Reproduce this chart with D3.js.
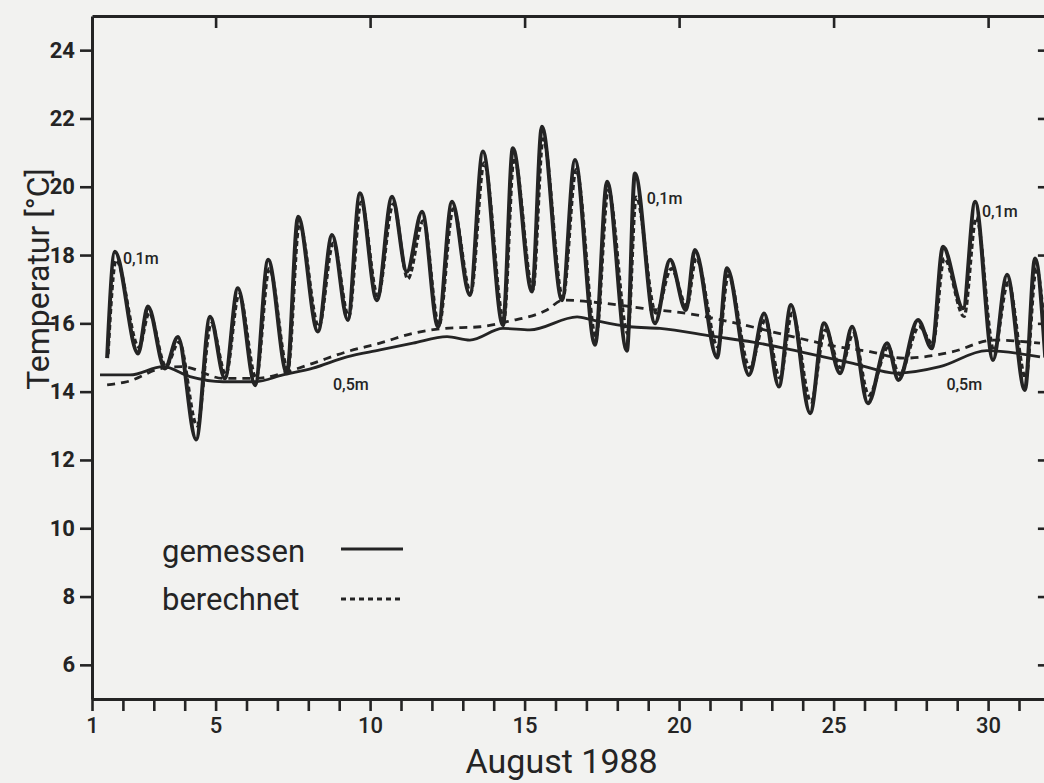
<!DOCTYPE html>
<html>
<head>
<meta charset="utf-8">
<script src="https://cdn.jsdelivr.net/npm/d3@7"></script>
<style>
  html, body { margin: 0; padding: 0; background: #f2f2f0; }
  svg { display: block; }
</style>
</head>
<body>
<svg id="chart" width="1044" height="783"></svg>
<script>
// ---------- data ----------
const yTicks = [6, 8, 10, 12, 14, 16, 18, 20, 22, 24];
const xTickDays = d3.range(1, 32);
const xLabelDays = [1, 5, 10, 15, 20, 25, 30];
const topTickDays = [5, 10, 15, 20, 25, 30];

// 0.1 m depth: daily extremes (decimal day of August 1988)
const t01 = [1.49, 1.74, 2.49, 2.81, 3.36, 3.78, 4.37, 4.82, 5.30, 5.72, 6.28, 6.70, 7.31, 7.67, 8.31, 8.77,
  9.28, 9.67, 10.22, 10.71, 11.19, 11.68, 12.20, 12.65, 13.23, 13.65, 14.30, 14.62, 15.24, 15.56, 16.21, 16.63,
  17.28, 17.67, 18.31, 18.57, 19.22, 19.71, 20.22, 20.51, 21.23, 21.55, 22.26, 22.75, 23.23, 23.62, 24.24, 24.69,
  25.21, 25.60, 26.11, 26.73, 27.10, 27.73, 28.18, 28.54, 29.19, 29.58, 30.16, 30.61, 31.19, 31.52, 31.85];
const measured01 = [14.98, 18.10, 15.12, 16.49, 14.68, 15.60, 12.60, 16.19, 14.39, 17.03, 14.19, 17.86, 14.54, 19.12, 15.76, 18.59,
  16.10, 19.81, 16.68, 19.71, 17.51, 19.27, 15.90, 19.56, 16.83, 21.03, 15.95, 21.13, 16.93, 21.76, 16.68, 20.78,
  15.37, 20.15, 15.20, 20.39, 16.00, 17.86, 16.39, 18.15, 15.00, 17.61, 14.49, 16.29, 14.15, 16.54, 13.37, 16.00,
  14.54, 15.90, 13.66, 15.42, 14.34, 16.10, 15.27, 18.24, 16.44, 19.56, 14.93, 17.42, 14.05, 17.90, 15.00];
const t01calc = [1.52, 1.78, 2.52, 2.85, 3.39, 3.82, 4.40, 4.86, 5.33, 5.76, 6.31, 6.74, 7.34, 7.71, 8.34, 8.81,
  9.31, 9.71, 10.25, 10.75, 11.22, 11.72, 12.23, 12.69, 13.26, 13.69, 14.33, 14.66, 15.27, 15.60, 16.24, 16.67,
  17.31, 17.71, 18.34, 18.61, 19.25, 19.75, 20.25, 20.55, 21.26, 21.59, 22.29, 22.79, 23.26, 23.66, 24.27, 24.73,
  25.24, 25.64, 26.14, 26.77, 27.13, 27.77, 28.21, 28.58, 29.22, 29.62, 30.19, 30.65, 31.22, 31.56, 31.88];
const computed01 = [15.10, 17.85, 15.30, 16.30, 14.75, 15.45, 13.00, 16.00, 14.50, 16.85, 14.40, 17.60, 14.65, 18.90, 15.90, 18.35,
  16.20, 19.55, 16.80, 19.50, 17.30, 19.00, 15.95, 19.35, 16.90, 20.70, 16.10, 20.85, 17.00, 21.40, 16.75, 20.50,
  15.60, 19.90, 15.70, 19.70, 16.30, 17.60, 16.50, 17.90, 15.30, 17.40, 14.70, 16.10, 14.40, 16.30, 13.70, 15.80,
  14.70, 15.70, 13.90, 15.30, 14.50, 15.90, 15.40, 17.90, 16.20, 19.10, 15.20, 17.20, 14.40, 17.60, 15.20];

// 0.5 m depth
const t05meas = [1.26, 2.23, 3.30, 4.17, 5.24, 6.28, 7.18, 8.15, 9.25, 10.32, 11.39, 12.49, 13.23, 14.30, 15.17,
  16.70, 17.18, 18.41, 19.38, 21.10, 22.39, 24.01, 25.63, 27.05, 28.44, 29.96, 31.68];
const measured05 = [14.49, 14.49, 14.73, 14.44, 14.29, 14.29, 14.49, 14.69, 15.02, 15.22, 15.42, 15.61, 15.51, 15.85, 15.81,
  16.19, 16.10, 15.90, 15.85, 15.62, 15.45, 15.15, 14.83, 14.54, 14.73, 15.20, 15.02];
const t05calc = [1.49, 2.13, 3.30, 3.94, 5.24, 6.34, 7.31, 8.15, 9.25, 10.32, 11.39, 12.36, 13.56, 14.43, 15.72,
  16.24, 17.54, 18.83, 20.26, 21.87, 23.49, 25.11, 26.18, 27.25, 28.86, 30.16, 31.68];
const computed05 = [14.20, 14.29, 14.69, 14.73, 14.39, 14.39, 14.58, 14.83, 15.17, 15.42, 15.71, 15.85, 15.90, 16.05, 16.39,
  16.68, 16.59, 16.44, 16.29, 16.00, 15.65, 15.32, 15.17, 14.98, 15.17, 15.51, 15.42];

const depthLabels = [
  {text: "0,1m", day: 2.0, value: 17.75},
  {text: "0,1m", day: 18.95, value: 19.5},
  {text: "0,1m", day: 29.8, value: 19.1},
  {text: "0,5m", day: 8.8, value: 14.05},
  {text: "0,5m", day: 28.65, value: 14.05}
];
const legendItems = [{label: "gemessen", dash: null}, {label: "berechnet", dash: "5,4"}];

// ---------- drawing ----------
const ink = "#242424";
const svg = d3.select("#chart");
const x = d3.scaleLinear().domain([1, 32]).range([92, 92 + 31 * 30.9]);
const y = d3.scaleLinear().domain([5, 25]).range([699, 16]);

const fontNum = "Roboto, 'DejaVu Sans', sans-serif";

// Left axis
const gL = svg.append("g").attr("transform", `translate(${x(1)},0)`)
  .call(d3.axisLeft(y).tickValues(yTicks).tickSize(12).tickSizeOuter(0).tickPadding(5).tickFormat(d3.format("d")));
// Right axis (inner ticks)
const gR = svg.append("g").attr("transform", `translate(${x(32)},0)`)
  .call(d3.axisRight(y).tickValues(yTicks).tickSize(-12).tickSizeOuter(0).tickFormat(""));
// Top axis (inner ticks)
const gT = svg.append("g").attr("transform", `translate(0,${y(25)})`)
  .call(d3.axisTop(x).tickValues(topTickDays).tickSize(-12).tickSizeOuter(0).tickFormat(""));
// Bottom axis
const gB = svg.append("g").attr("transform", `translate(0,${y(5)})`)
  .call(d3.axisBottom(x).tickValues(xTickDays).tickSize(12).tickSizeOuter(0).tickPadding(6)
    .tickFormat(d => xLabelDays.includes(d) ? d : ""));

[gL, gR, gT, gB].forEach(g => {
  g.select(".domain").attr("stroke", ink).attr("stroke-width", 3);
  g.selectAll(".tick line").attr("stroke", ink).attr("stroke-width", 2.6);
  g.selectAll("text").attr("fill", ink).attr("font-family", fontNum);
});
gL.selectAll("text").attr("font-size", 22).attr("font-weight", 700);
gB.selectAll("text").attr("font-size", 22).attr("font-weight", 500);

// Axis titles
svg.append("text")
  .attr("transform", `translate(49,${y(17.3)}) rotate(-90)`)
  .attr("text-anchor", "middle")
  .attr("font-family", fontNum).attr("font-size", 32).attr("fill", ink)
  .text("Temperatur [°C]");
svg.append("text")
  .attr("x", x(16.2)).attr("y", 773)
  .attr("text-anchor", "middle")
  .attr("font-family", fontNum).attr("font-size", 34).attr("fill", ink)
  .text("August 1988");

// Lines
const line = d3.line().x(d => x(d[0])).y(d => y(d[1])).curve(d3.curveMonotoneX);
const zip = (t, v) => t.map((d, i) => [d, v[i]]);

svg.append("path").datum(zip(t05meas, measured05))
  .attr("d", line).attr("fill", "none").attr("stroke", ink).attr("stroke-width", 2.8);
svg.append("path").datum(zip(t05calc, computed05))
  .attr("d", line).attr("fill", "none").attr("stroke", ink).attr("stroke-width", 2.8)
  .attr("stroke-dasharray", "8,6");
svg.append("path").datum(zip(t01calc, computed01))
  .attr("d", line).attr("fill", "none").attr("stroke", ink).attr("stroke-width", 3.2)
  .attr("stroke-dasharray", "5,3");
svg.append("path").datum(zip(t01, measured01))
  .attr("d", line).attr("fill", "none").attr("stroke", ink).attr("stroke-width", 4)
  .attr("stroke-linejoin", "round");

// Depth labels
svg.selectAll("text.depth").data(depthLabels).join("text")
  .attr("class", "depth")
  .attr("x", d => x(d.day)).attr("y", d => y(d.value))
  .attr("font-family", fontNum).attr("font-size", 16).attr("font-weight", 500).attr("fill", ink)
  .text(d => d.text);

// Legend
const lg = svg.append("g");
legendItems.forEach((it, i) => {
  const by = 562 + i * 48;
  lg.append("text").attr("x", 162).attr("y", by)
    .attr("font-family", fontNum).attr("font-size", 31).attr("fill", ink).text(it.label);
  lg.append("line").attr("x1", 341).attr("x2", 403)
    .attr("y1", by - 13 + i * 2).attr("y2", by - 13 + i * 2)
    .attr("stroke", ink).attr("stroke-width", 2.8)
    .attr("stroke-dasharray", it.dash);
});
</script>
</body>
</html>
